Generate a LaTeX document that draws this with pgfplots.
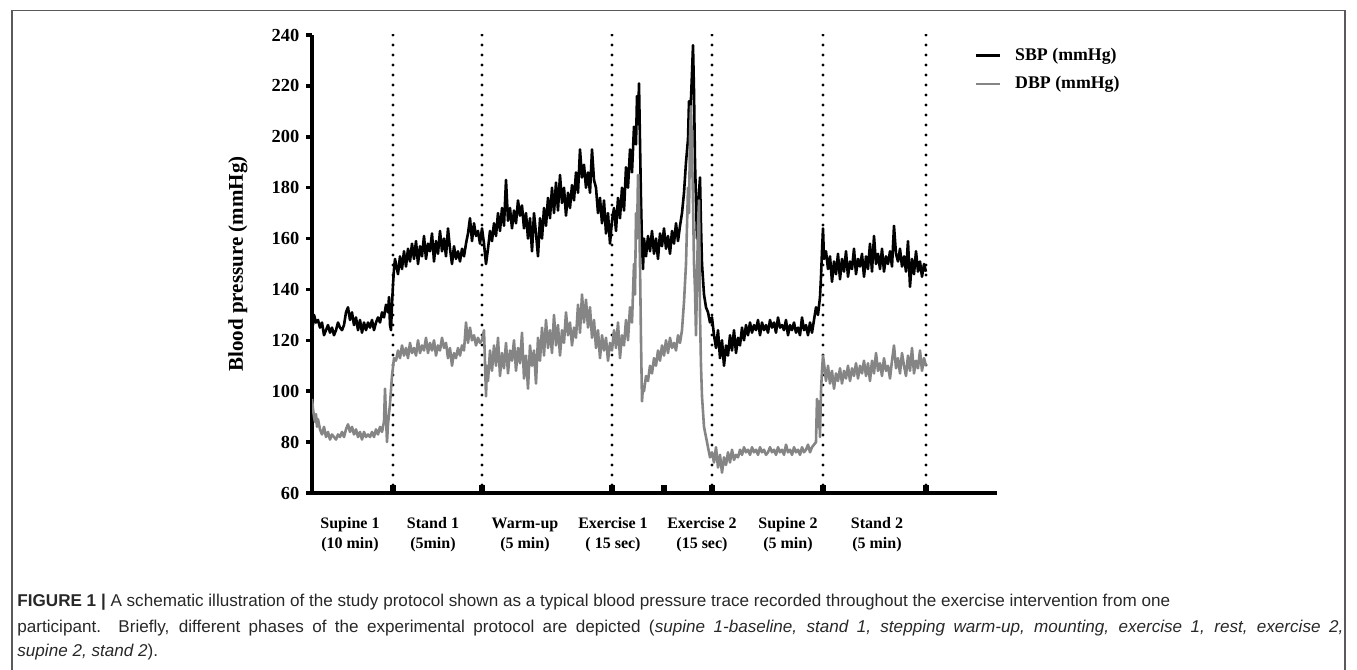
\documentclass[border=0pt]{standalone}
\usepackage{fontspec}
\setmainfont{Liberation Serif}
\newfontfamily\capfont{Liberation Sans}
\usepackage{pgfplots}
\pgfplotsset{compat=1.18}
\definecolor{dbpgray}{RGB}{133,133,133}
\definecolor{capgray}{RGB}{40,40,40}
\definecolor{framegray}{RGB}{90,90,90}

\begin{document}
\begin{tikzpicture}
\useasboundingbox (0,0) rectangle (678.5pt,335pt);
% figure frame (open at the bottom)
\draw[framegray, line width=0.7pt] (6pt,0) -- (6pt,329.6pt) -- (672.5pt,329.6pt) -- (672.5pt,0);

\begin{axis}[
  at={(156pt,88.5pt)}, anchor=south west,
  scale only axis, width=342.5pt, height=229pt,
  xmin=0, xmax=685, ymin=60, ymax=240,
  axis x line=bottom, axis y line=left,
  axis line style={-, line width=2.2pt},
  xtick=\empty,
  ytick={60,80,...,240},
  tick align=outside, major tick length=2.8pt,
  ytick style={line width=1.8pt, black},
  /pgf/number format/assume math mode=true,
  yticklabel style={font=\fontsize{9.2}{9.2}\selectfont\bfseries},
  ylabel={Blood pressure (mmHg)},
  every axis y label/.style={at={(axis description cs:0,0.5)}, xshift=-37pt,
    rotate=90, anchor=center, font=\fontsize{10.5}{10.5}\selectfont\bfseries},
  legend style={at={(axis description cs:0.958,0.99)}, anchor=north west,
    draw=none, fill=none, font=\fontsize{8.9}{8.9}\selectfont\bfseries,
    row sep=2.5pt},
  legend cell align=left,
  legend image code/.code={\draw[#1, line width=1.3pt] (0pt,0pt) -- (12pt,0pt); \path (17pt,0pt);},
]
% phase boundaries
\addplot[forget plot, black, line width=1.6pt, line cap=round, dash pattern=on 0pt off 5pt] coordinates {(81,240) (81,60)};
\addplot[forget plot, black, line width=1.6pt, line cap=round, dash pattern=on 0pt off 5pt] coordinates {(170,240) (170,60)};
\addplot[forget plot, black, line width=1.6pt, line cap=round, dash pattern=on 0pt off 5pt] coordinates {(300,240) (300,60)};
\addplot[forget plot, black, line width=1.6pt, line cap=round, dash pattern=on 0pt off 5pt] coordinates {(400,240) (400,60)};
\addplot[forget plot, black, line width=1.6pt, line cap=round, dash pattern=on 0pt off 5pt] coordinates {(511,240) (511,60)};
\addplot[forget plot, black, line width=1.6pt, line cap=round, dash pattern=on 0pt off 5pt] coordinates {(614,240) (614,60)};
% x tick blocks
\addplot[forget plot, ycomb, black, line width=3pt] coordinates {(81,63) (170,63) (300,63) (352,63) (400,63) (511,63) (614,63)};

% SBP
\addplot[black, line width=1.3pt, line join=round] coordinates {
(0,133) (1,126) (2,130) (4,127) (6,128) (8,125) (10,127) (12,122) (14,124) (16,126) (18,123) (20,125) (22,122) (24,124) (26,127) (28,125) (30,124) (32,126) (34,131) (36,133) (38,128) (40,131) (42,126) (44,129) (46,124) (48,128) (50,123) (52,127) (54,124) (56,127) (58,125) (60,128) (62,124) (64,127) (66,129) (68,127) (70,131) (72,129) (74,134) (76,131) (77,137) (78,126) (79,124) (80,134) (81,142) (82,148) (83,152)
(84,150) (86,146) (88,153) (90,148) (92,155) (94,149) (96,156) (98,151) (100,158) (102,152) (104,159) (106,150) (108,157) (110,153) (112,161) (114,152) (116,158) (118,155) (120,162) (122,151) (124,159) (126,154) (128,163) (130,155) (132,160) (134,153) (136,164) (138,156) (140,150) (142,157) (144,152) (146,155) (148,151) (150,156) (152,153) (154,158) (156,162) (158,168) (160,159) (162,166) (164,161) (166,163) (168,158) (170,164)
(172,158) (174,150) (176,156) (178,163) (180,159) (182,166) (184,161) (186,170) (188,163) (190,172) (192,165) (194,183) (196,167) (198,172) (200,164) (202,171) (204,166) (206,175) (208,169) (210,173) (212,164) (214,170) (216,160) (218,168) (220,155) (222,170) (224,162) (226,153) (228,168) (230,160) (232,172) (234,165) (236,176) (238,168) (240,180) (242,170) (244,182) (246,171) (248,185) (250,174) (252,180) (254,169) (256,178) (258,172) (260,181) (262,175) (264,186) (266,178) (268,195) (270,184) (272,189) (274,180) (276,186) (278,178) (280,195) (282,183) (284,180) (286,170) (288,176) (290,166) (292,175) (294,162) (296,170) (298,158) (300,167)
(302,172) (304,163) (306,176) (308,168) (310,180) (312,171) (314,188) (316,180) (318,195) (320,186) (322,204) (324,197) (325,216) (326,205) (327,221) (328,198) (329,175) (330,158) (331,148) (332,160) (334,153) (336,161) (338,155) (340,163) (342,154) (344,160) (346,152) (348,162) (350,157) (352,164) (354,156) (356,161) (358,154) (360,163) (362,158) (364,166) (366,159) (368,165) (370,170) (372,178) (374,190) (376,199) (377,214) (378,205) (380,225) (381,236) (382,218) (383,190) (384,175) (385,160) (386,172) (388,184) (389,165) (390,150) (392,138) (394,133) (396,131) (398,127) (400,129)
(402,122) (404,117) (406,124) (408,113) (410,120) (412,110) (414,118) (416,114) (418,122) (420,116) (422,124) (424,115) (426,121) (428,118) (430,125) (432,120) (434,126) (436,122) (438,127) (440,123) (442,126) (444,124) (446,128) (448,122) (450,127) (452,124) (454,126) (456,123) (458,128) (460,125) (462,127) (464,123) (466,129) (468,125) (470,126) (472,124) (474,128) (476,122) (478,126) (480,124) (482,127) (484,123) (486,125) (488,122) (490,129) (492,124) (494,126) (496,122) (498,127) (500,123) (502,128) (504,133) (506,130) (508,137) (509,145) (510,155) (511,164) (512,152)
(514,155) (516,148) (518,153) (520,143) (522,151) (524,146) (526,154) (528,144) (530,152) (532,147) (534,155) (536,145) (538,151) (540,148) (542,156) (544,146) (546,152) (548,149) (550,154) (552,145) (554,153) (556,148) (558,158) (560,147) (562,161) (564,150) (566,154) (568,148) (570,156) (572,147) (574,153) (576,150) (578,155) (580,149) (582,165) (584,154) (586,151) (588,156) (590,149) (592,153) (594,147) (596,159) (598,141) (600,152) (602,146) (604,155) (606,147) (608,151) (610,145) (612,150) (614,147)
};
\addlegendentry{SBP (mmHg)}

% DBP
\addplot[dbpgray, line width=1.3pt, line join=round] coordinates {
(0,97) (1,93) (2,90) (3,88) (4,91) (5,86) (6,89) (8,85) (10,83) (12,86) (14,82) (16,84) (18,81) (20,83) (22,82) (24,81) (26,83) (28,82) (30,84) (32,82) (34,85) (36,87) (38,84) (40,86) (42,83) (44,85) (46,82) (48,84) (50,81) (52,84) (54,82) (56,83) (58,82) (60,84) (62,82) (64,85) (66,83) (68,86) (70,84) (72,88) (73,101) (74,90) (75,80) (76,87) (78,95) (80,106) (82,113)
(84,112) (86,116) (88,113) (90,118) (92,114) (94,117) (96,113) (98,119) (100,115) (102,117) (104,114) (106,120) (108,115) (110,118) (112,116) (114,121) (116,115) (118,119) (120,116) (122,120) (124,114) (126,118) (128,116) (130,121) (132,117) (134,119) (136,113) (138,117) (140,110) (142,115) (144,113) (146,117) (148,114) (150,118) (152,116) (154,127) (156,119) (158,125) (160,120) (162,122) (164,118) (166,121) (168,119) (170,120)
(172,124) (174,98) (175,110) (176,104) (178,116) (180,108) (182,118) (184,110) (186,121) (188,106) (190,115) (192,109) (194,119) (196,107) (198,116) (200,112) (202,120) (204,108) (206,117) (208,111) (210,123) (212,105) (214,114) (216,101) (218,118) (220,110) (222,116) (224,103) (226,121) (228,112) (230,125) (232,114) (234,128) (236,117) (238,124) (240,115) (242,130) (244,118) (246,126) (248,114) (250,124) (252,119) (254,131) (256,122) (258,127) (260,118) (262,125) (264,121) (266,134) (268,123) (270,138) (272,127) (274,136) (276,125) (278,133) (280,121) (282,128) (284,117) (286,124) (288,113) (290,122) (292,116) (294,121) (296,112) (298,119) (300,116)
(302,124) (304,117) (306,127) (308,113) (310,122) (312,118) (314,128) (316,120) (318,133) (320,127) (322,150) (323,138) (324,170) (325,160) (326,185) (327,172) (328,150) (329,120) (330,96) (331,102) (332,100) (334,106) (336,104) (338,110) (340,107) (342,113) (344,110) (346,116) (348,112) (350,118) (352,114) (354,120) (356,115) (358,121) (360,117) (362,119) (364,116) (366,122) (368,119) (370,124) (372,135) (374,150) (376,180) (377,170) (378,200) (379,212) (380,195) (381,175) (382,150) (383,140) (384,122) (386,165) (387,175) (388,130) (389,110) (390,98) (392,86) (394,82) (396,78) (398,74)
(400,76) (402,72) (404,78) (406,70) (408,75) (410,68) (412,74) (414,71) (416,76) (418,72) (420,77) (422,73) (424,75) (426,74) (428,77) (430,75) (432,78) (434,76) (436,77) (438,75) (440,78) (442,76) (444,77) (446,75) (448,78) (450,76) (452,77) (454,75) (456,76) (458,78) (460,76) (462,77) (464,75) (466,78) (468,76) (470,77) (472,75) (474,79) (476,76) (478,77) (480,75) (482,78) (484,76) (486,77) (488,75) (490,78) (492,76) (494,77) (496,79) (498,76) (500,78) (502,79) (504,80) (505,97) (506,86) (507,96) (508,82) (509,100) (510,108) (511,114) (512,111)
(514,104) (516,110) (518,103) (520,108) (522,101) (524,107) (526,104) (528,109) (530,103) (532,108) (534,105) (536,110) (538,104) (540,109) (542,106) (544,111) (546,105) (548,110) (550,107) (552,112) (554,106) (556,111) (558,104) (560,112) (562,107) (564,115) (566,108) (568,111) (570,106) (572,113) (574,108) (576,110) (578,105) (580,112) (582,118) (584,109) (586,113) (588,107) (590,115) (592,110) (594,106) (596,114) (598,108) (600,117) (602,107) (604,112) (606,109) (608,116) (610,108) (612,113) (614,110)
};
\addlegendentry{DBP (mmHg)}
\end{axis}

% phase labels under the axis
\begin{scope}[every node/.style={font=\fontsize{8}{10}\selectfont\bfseries, align=center, anchor=center}]
\node at (175pt,67.5pt) {Supine 1\\(10 min)};
\node at (216.5pt,67.5pt) {Stand 1\\(5min)};
\node at (262.5pt,67.5pt) {Warm-up\\(5 min)};
\node at (306.5pt,67.5pt) {Exercise 1\\( 15 sec)};
\node at (351pt,67.5pt) {Exercise 2\\(15 sec)};
\node at (394pt,67.5pt) {Supine 2\\(5 min)};
\node at (438.5pt,67.5pt) {Stand 2\\(5 min)};
\end{scope}

% caption
\begin{scope}[every node/.style={font=\capfont\fontsize{8.55}{10}\selectfont, text=capgray, anchor=base west, inner sep=0pt}]
\node at (8.5pt,31.5pt) {\textbf{FIGURE 1 |} A schematic illustration of the study protocol shown as a typical blood pressure trace recorded throughout the exercise intervention from one};
\node at (8.5pt,18.5pt) {\makebox[663pt][s]{participant. Briefly, different phases of the experimental protocol are depicted (\textit{supine 1-baseline, stand 1, stepping warm-up, mounting, exercise 1, rest, exercise 2,}}};
\node at (8.5pt,6.5pt) {\textit{supine 2, stand 2}).};
\end{scope}
\end{tikzpicture}
\end{document}
